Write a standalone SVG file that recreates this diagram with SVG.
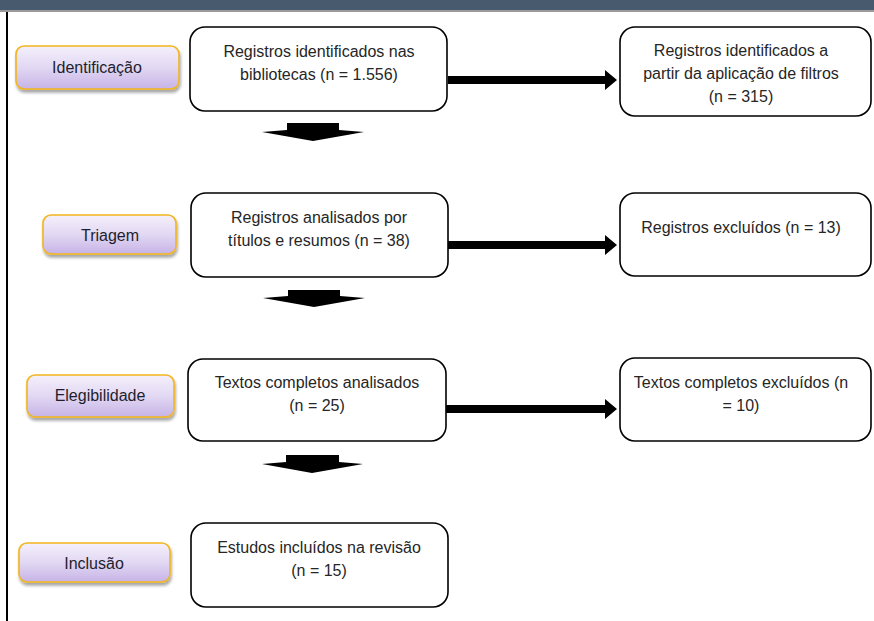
<svg xmlns="http://www.w3.org/2000/svg" width="874" height="621" viewBox="0 0 874 621">
<defs>
<linearGradient id="lbl" x1="0" y1="0" x2="0" y2="1">
<stop offset="0" stop-color="#f4f0fb"/>
<stop offset="0.5" stop-color="#e2d8f3"/>
<stop offset="1" stop-color="#c6b3e6"/>
</linearGradient>
<filter id="sh" x="-10%" y="-20%" width="120%" height="150%">
<feGaussianBlur in="SourceAlpha" stdDeviation="1.5"/>
<feOffset dx="1" dy="3" result="b"/>
<feComponentTransfer><feFuncA type="linear" slope="0.35"/></feComponentTransfer>
<feMerge><feMergeNode/><feMergeNode in="SourceGraphic"/></feMerge>
</filter>
</defs>
<style>
.lbl{fill:url(#lbl);stroke:#f2b51c;stroke-width:1.6;filter:url(#sh)}
.box{fill:#ffffff;stroke:#000000;stroke-width:1.6}
.t{font-family:"Liberation Sans",Arial,sans-serif;font-size:16px;fill:#262626;text-anchor:middle}
.lt{font-family:"Liberation Sans",Arial,sans-serif;font-size:16px;fill:#1e1e2e;text-anchor:middle}
.arr{fill:#000000}
</style>
<rect width="874" height="621" fill="#ffffff"/>
<rect x="0" y="0" width="874" height="10" fill="#475a6e"/>
<rect x="0" y="10" width="874" height="2" fill="#9a9a9a"/>
<rect x="6" y="12" width="2" height="609" fill="#000000"/>

<g id="label-identificacao"><rect class="lbl" x="16" y="46" width="163" height="43" rx="8"/><text class="lt" x="97" y="73">Identificação</text></g>
<g id="label-triagem"><rect class="lbl" x="43" y="215" width="133" height="39" rx="8"/><text class="lt" x="110" y="241">Triagem</text></g>
<g id="label-elegibilidade"><rect class="lbl" x="27" y="375" width="147" height="42" rx="8"/><text class="lt" x="100" y="401">Elegibilidade</text></g>
<g id="label-inclusao"><rect class="lbl" x="19" y="543" width="151" height="39" rx="8"/><text class="lt" x="94" y="569">Inclusão</text></g>

<g id="box-identificados"><rect class="box" x="190" y="27" width="257" height="84" rx="15"/><text class="t" x="319" y="57">Registros identificados nas</text><text class="t" x="319" y="80">bibliotecas (n = 1.556)</text></g>
<g id="box-filtros"><rect class="box" x="620" y="27" width="251" height="89" rx="15"/><text class="t" x="741" y="56">Registros identificados a</text><text class="t" x="741" y="79">partir da aplicação de filtros</text><text class="t" x="741" y="102">(n = 315)</text></g>
<g id="box-analisados"><rect class="box" x="191" y="193" width="257" height="84" rx="15"/><text class="t" x="319" y="223">Registros analisados por</text><text class="t" x="319" y="246">títulos e resumos (n = 38)</text></g>
<g id="box-excluidos"><rect class="box" x="620" y="193" width="251" height="83" rx="15"/><text class="t" x="741" y="233">Registros excluídos (n = 13)</text></g>
<g id="box-textos"><rect class="box" x="188" y="359" width="258" height="82" rx="15"/><text class="t" x="317" y="388">Textos completos analisados</text><text class="t" x="317" y="411">(n = 25)</text></g>
<g id="box-textos-excluidos"><rect class="box" x="620" y="358" width="251" height="83" rx="15"/><text class="t" x="741" y="388">Textos completos excluídos (n</text><text class="t" x="741" y="411">= 10)</text></g>
<g id="box-incluidos"><rect class="box" x="191" y="523" width="257" height="84" rx="15"/><text class="t" x="319" y="553">Estudos incluídos na revisão</text><text class="t" x="319" y="576">(n = 15)</text></g>

<g id="connectors">
<path class="arr" d="M448,76 H605 V70 L617,80 L605,90 V84 H448 Z"/>
<path class="arr" d="M448,241 H605 V235 L617,245 L605,255 V249 H448 Z"/>
<path class="arr" d="M446,405 H605 V399 L617,409 L605,419 V413 H446 Z"/>
<path class="arr" d="M287,123 H339 V130 L364,132 L313,141 L262,132 L287,130 Z"/>
<path class="arr" d="M288,290 H340 V296 L365,298 L314,307 L263,298 L288,296 Z"/>
<path class="arr" d="M286,455 H339 V462 L363,464 L312,473 L262,464 L286,462 Z"/>
</g>
</svg>
